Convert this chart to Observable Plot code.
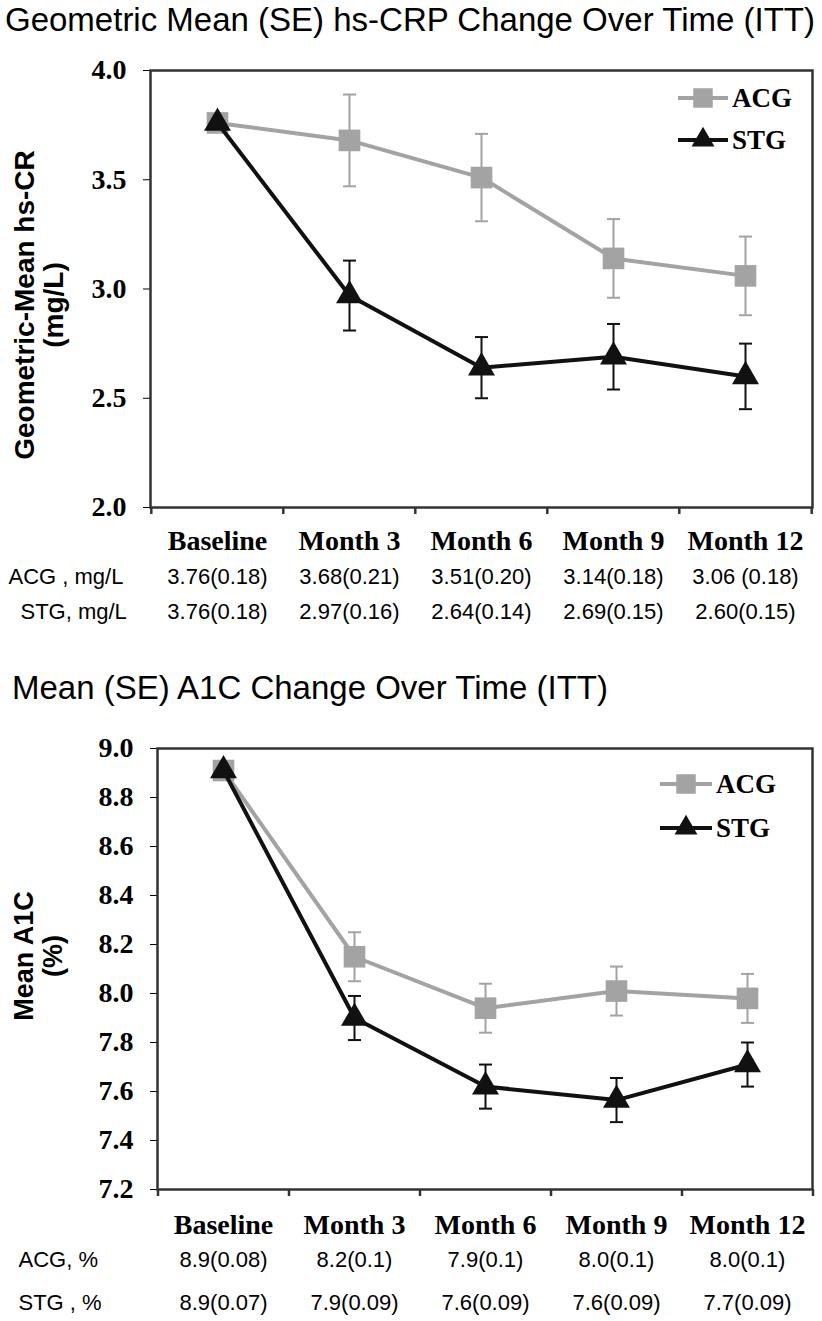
<!DOCTYPE html>
<html><head><meta charset="utf-8">
<script src="https://cdn.jsdelivr.net/npm/d3@7"></script>
<script src="https://cdn.jsdelivr.net/npm/@observablehq/plot@0.6"></script>
<style>
body{margin:0;background:#fff;}
#page{position:relative;width:822px;height:1321px;overflow:hidden;background:#fff;}
.title{position:absolute;font-family:"Liberation Sans",Arial,sans-serif;font-size:33px;line-height:33px;color:#000;white-space:nowrap;}
.chart{position:absolute;left:0;}
</style></head><body>
<div id="page">
 <div class="title" id="t1" style="left:5px;top:3px"></div>
 <div class="chart" id="c1" style="top:40px"></div>
 <div class="title" id="t2" style="left:12px;top:671px"></div>
 <div class="chart" id="c2" style="top:710px"></div>
</div>
<script>
// ---------- data ----------
const categories = ["Baseline", "Month 3", "Month 6", "Month 9", "Month 12"];
const seriesNames = ["ACG", "STG"];

const titleCRP = "Geometric Mean (SE) hs-CRP Change Over Time (ITT)";
const yTitleCRP = "Geometric-Mean hs-CR\n(mg/L)";
const crpTicks = [2.0, 2.5, 3.0, 3.5, 4.0];
const crpACG = [3.76, 3.68, 3.51, 3.14, 3.06];
const crpACGse = [0.18, 0.21, 0.20, 0.18, 0.18];
const crpSTG = [3.76, 2.97, 2.64, 2.69, 2.60];
const crpSTGse = [0.18, 0.16, 0.14, 0.15, 0.15];
const crpRowNames = ["ACG , mg/L", "STG, mg/L"];
const crpACGtext = ["3.76(0.18)", "3.68(0.21)", "3.51(0.20)", "3.14(0.18)", "3.06 (0.18)"];
const crpSTGtext = ["3.76(0.18)", "2.97(0.16)", "2.64(0.14)", "2.69(0.15)", "2.60(0.15)"];

const titleA1C = "Mean (SE) A1C Change Over Time (ITT)";
const yTitleA1C = "Mean A1C\n(%)";
const a1cTicks = [7.2, 7.4, 7.6, 7.8, 8.0, 8.2, 8.4, 8.6, 8.8, 9.0];
const a1cACG = [8.91, 8.15, 7.94, 8.01, 7.98];
const a1cACGse = [0.08, 0.10, 0.10, 0.10, 0.10];
const a1cSTG = [8.91, 7.90, 7.62, 7.565, 7.71];
const a1cSTGse = [0.07, 0.09, 0.09, 0.09, 0.09];
const a1cRowNames = ["ACG, %", "STG , %"];
const a1cACGtext = ["8.9(0.08)", "8.2(0.1)", "7.9(0.1)", "8.0(0.1)", "8.0(0.1)"];
const a1cSTGtext = ["8.9(0.07)", "7.9(0.09)", "7.6(0.09)", "7.6(0.09)", "7.7(0.09)"];

// ---------- styles ----------
const GREY = "#a3a3a3";
const BLACK = "#111111";
const AXIS = "#333333";
const SERIF = '"Liberation Serif", "Times New Roman", serif';
const SANS = '"Liberation Sans", Arial, sans-serif';

document.getElementById("t1").textContent = titleCRP;
document.getElementById("t2").textContent = titleA1C;

function makeChart(cfg) {
  const W = 822;
  const {height, marginTop, marginBottom, marginLeft, marginRight} = cfg;
  const plotH = height - marginTop - marginBottom;
  const half = (W - marginLeft - marginRight) / categories.length / 2;
  const rows = categories.map((c, i) => ({
    cat: c, i,
    acg: cfg.acg[i], acgSE: cfg.acgSE[i],
    stg: cfg.stg[i], stgSE: cfg.stgSE[i],
    acgText: cfg.acgText[i], stgText: cfg.stgText[i]
  }));
  const err = rows.filter(d => d.i > 0);
  const cap = {draw(ctx) { ctx.moveTo(-6.5, 0); ctx.lineTo(6.5, 0); }};
  const tableFont = {fontFamily: SANS, fontSize: 22, fontWeight: "normal", fill: "#000"};
  const errMarks = (key, seKey, color) => [
    Plot.ruleX(err, {x: "cat", y1: d => d[key] - d[seKey], y2: d => d[key] + d[seKey], stroke: color, strokeWidth: 2}),
    Plot.dot(err, {x: "cat", y: d => d[key] + d[seKey], symbol: cap, fill: "none", stroke: color, strokeWidth: 2}),
    Plot.dot(err, {x: "cat", y: d => d[key] - d[seKey], symbol: cap, fill: "none", stroke: color, strokeWidth: 2})
  ];
  const svg = Plot.plot({
    width: W, height, marginTop, marginBottom, marginLeft, marginRight,
    style: {fontFamily: SERIF, fontSize: cfg.tickFont + "px", fontWeight: "bold", color: "#000", background: "#fff", overflow: "visible"},
    x: {type: "point", domain: categories, padding: 0.5, tickSize: 0, tickPadding: cfg.labelPad, label: null},
    y: {domain: cfg.yDomain, ticks: cfg.yTicks, tickFormat: ".1f", tickSize: 7, tickPadding: 17, label: null},
    marks: [
      Plot.frame({stroke: AXIS, strokeWidth: 2.5}),
      Plot.ruleX(categories, {x: d => d, dx: -half, stroke: AXIS, strokeWidth: 2.5, insetTop: plotH, insetBottom: -7}),
      Plot.ruleX(categories.slice(-1), {x: d => d, dx: half, stroke: AXIS, strokeWidth: 2.5, insetTop: plotH, insetBottom: -7}),
      ...errMarks("acg", "acgSE", GREY),
      Plot.line(rows, {x: "cat", y: "acg", stroke: GREY, strokeWidth: 4}),
      Plot.dot(rows, {x: "cat", y: "acg", symbol: "square", r: 12.2, fill: GREY, stroke: "none"}),
      ...errMarks("stg", "stgSE", BLACK),
      Plot.line(rows, {x: "cat", y: "stg", stroke: BLACK, strokeWidth: 4}),
      Plot.dot(rows, {x: "cat", y: "stg", symbol: "triangle", r: 10, fill: BLACK, stroke: "none"}),
      Plot.text(rows, {x: "cat", text: "acgText", frameAnchor: "bottom", dy: cfg.rowDy[0], ...tableFont}),
      Plot.text(rows, {x: "cat", text: "stgText", frameAnchor: "bottom", dy: cfg.rowDy[1], ...tableFont}),
      Plot.text([cfg.rowNames[0]], {text: d => d, frameAnchor: "bottom-left", textAnchor: "start", dx: cfg.rowX[0] - marginLeft, dy: cfg.rowDy[0], ...tableFont}),
      Plot.text([cfg.rowNames[1]], {text: d => d, frameAnchor: "bottom-left", textAnchor: "start", dx: cfg.rowX[1] - marginLeft, dy: cfg.rowDy[1], ...tableFont}),
      Plot.text([cfg.yTitle], {text: d => d, frameAnchor: "left", textAnchor: "middle", lineAnchor: "middle", rotate: -90,
        dx: cfg.titleX - marginLeft, dy: cfg.titleDy,
        fontFamily: SANS, fontSize: cfg.titleFont, fontWeight: "bold", lineHeight: 29 / cfg.titleFont, fill: "#000"})
    ]
  });
  // legend (key)
  const g = d3.select(svg).append("g");
  const L = cfg.legend;
  const items = [
    {name: seriesNames[0], color: GREY, sym: d3.symbolSquare, r: 11, y: L.y[0]},
    {name: seriesNames[1], color: BLACK, sym: d3.symbolTriangle, r: 8.5, y: L.y[1]}
  ];
  for (const it of items) {
    g.append("line").attr("x1", L.x0).attr("x2", L.x1).attr("y1", it.y).attr("y2", it.y)
      .attr("stroke", it.color).attr("stroke-width", 4);
    g.append("path").attr("d", d3.symbol(it.sym, Math.PI * it.r * it.r)())
      .attr("transform", `translate(${(L.x0 + L.x1) / 2},${it.y})`).attr("fill", it.color);
    g.append("text").attr("x", L.tx).attr("y", it.y).attr("dy", "0.35em")
      .attr("text-anchor", "start").attr("font-family", SERIF).attr("font-weight", "bold")
      .attr("font-size", 27).attr("fill", "#000").text(it.name);
  }
  return svg;
}

document.getElementById("c1").appendChild(makeChart({
  height: 600, marginTop: 30, marginBottom: 133, marginLeft: 150, marginRight: 10,
  yDomain: [2, 4], yTicks: crpTicks, tickFont: 28, labelPad: 23,
  acg: crpACG, acgSE: crpACGse, stg: crpSTG, stgSE: crpSTGse,
  acgText: crpACGtext, stgText: crpSTGtext, rowNames: crpRowNames,
  rowDy: [76, 111], rowX: [8, 20],
  yTitle: yTitleCRP, titleX: 38.5, titleDy: 16, titleFont: 28,
  legend: {x0: 678, x1: 728, tx: 732, y: [58, 100]}
}));

document.getElementById("c2").appendChild(makeChart({
  height: 611, marginTop: 38, marginBottom: 132, marginLeft: 157, marginRight: 10,
  yDomain: [7.2, 9.0], yTicks: a1cTicks, tickFont: 28, labelPad: 25,
  acg: a1cACG, acgSE: a1cACGse, stg: a1cSTG, stgSE: a1cSTGse,
  acgText: a1cACGtext, stgText: a1cSTGtext, rowNames: a1cRowNames,
  rowDy: [77, 120], rowX: [18, 18],
  yTitle: yTitleA1C, titleX: 38, titleDy: -13, titleFont: 27,
  legend: {x0: 660, x1: 712, tx: 716, y: [74, 118]}
}));
</script>
</body></html>
